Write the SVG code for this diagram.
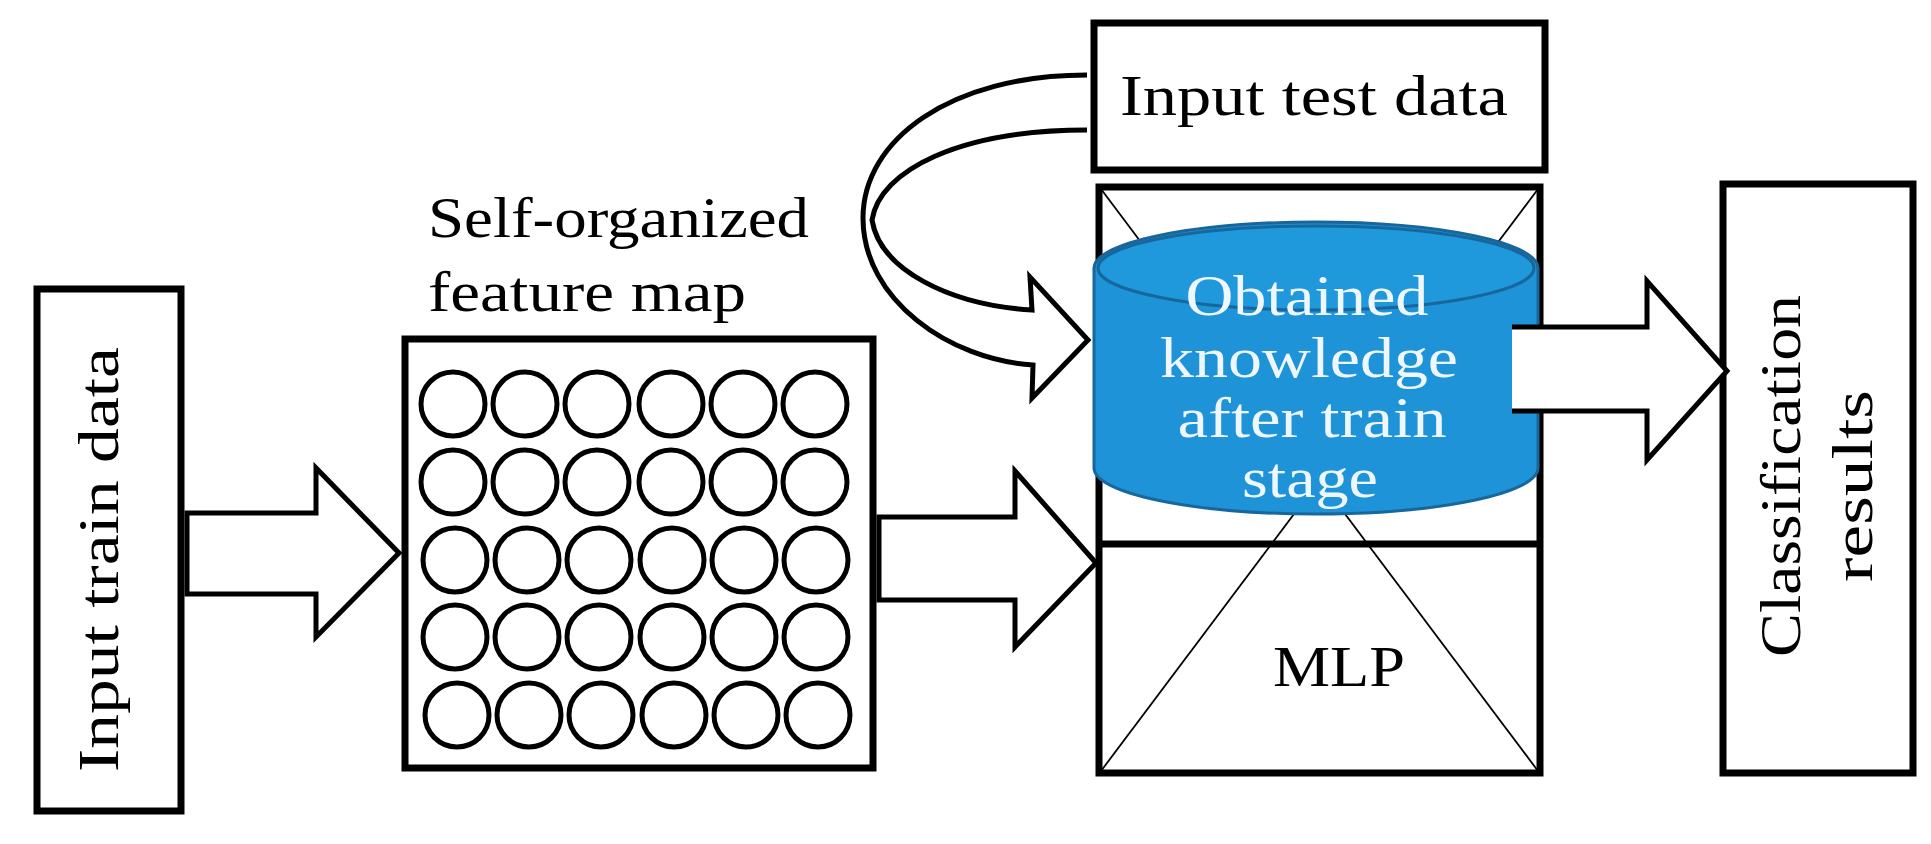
<svg xmlns="http://www.w3.org/2000/svg" width="1931" height="844" viewBox="0 0 1931 844">
<style>
.box{fill:#fff;stroke:#000;stroke-width:7}
.c{fill:none;stroke:#000;stroke-width:5}
.arr{fill:#fff;stroke:#000;stroke-width:5;stroke-linejoin:miter}
.t{font-family:"Liberation Serif","Times New Roman",serif;font-size:56px;fill:#000}
.w{font-family:"Liberation Serif","Times New Roman",serif;font-size:56px;fill:#eef7ff;text-anchor:middle}
</style>
<rect width="1931" height="844" fill="#fff"/>
<g id="train">
<rect class="box" x="37" y="289" width="144" height="522"/>
<text class="t" transform="translate(118,772) rotate(-90)" textLength="425" lengthAdjust="spacingAndGlyphs">Input train data</text>
</g>
<g id="som">
<text class="t" x="428" y="237" textLength="381" lengthAdjust="spacingAndGlyphs">Self-organized</text>
<text class="t" x="428" y="311" textLength="318" lengthAdjust="spacingAndGlyphs">feature map</text>
<rect class="box" x="405" y="339" width="468" height="429"/>
<g class="c">
<circle cx="453" cy="404" r="32"/><circle cx="525" cy="404" r="32"/><circle cx="597" cy="404" r="32"/><circle cx="671" cy="404" r="32"/><circle cx="743" cy="404" r="32"/><circle cx="815" cy="404" r="32"/>
<circle cx="453" cy="482" r="32"/><circle cx="525" cy="482" r="32"/><circle cx="597" cy="482" r="32"/><circle cx="671" cy="482" r="32"/><circle cx="743" cy="482" r="32"/><circle cx="815" cy="482" r="32"/>
<circle cx="455" cy="560" r="32"/><circle cx="527" cy="560" r="32"/><circle cx="599" cy="560" r="32"/><circle cx="672" cy="560" r="32"/><circle cx="744" cy="560" r="32"/><circle cx="816" cy="560" r="32"/>
<circle cx="455" cy="637" r="32"/><circle cx="527" cy="637" r="32"/><circle cx="599" cy="637" r="32"/><circle cx="672" cy="637" r="32"/><circle cx="744" cy="637" r="32"/><circle cx="816" cy="637" r="32"/>
<circle cx="457" cy="715" r="32"/><circle cx="529" cy="715" r="32"/><circle cx="601" cy="715" r="32"/><circle cx="674" cy="715" r="32"/><circle cx="746" cy="715" r="32"/><circle cx="818" cy="715" r="32"/>
</g>
</g>
<g id="test">
<rect class="box" x="1094" y="23" width="451" height="147"/>
<text class="t" x="1120" y="115" textLength="388" lengthAdjust="spacingAndGlyphs">Input test data</text>
</g>
<g id="main">
<rect class="box" x="1099" y="187" width="441" height="586"/>
<line x1="1099" y1="544" x2="1540" y2="544" stroke="#000" stroke-width="7"/>
<line x1="1101" y1="189" x2="1538" y2="771" stroke="#000" stroke-width="1.8"/>
<line x1="1538" y1="189" x2="1101" y2="771" stroke="#000" stroke-width="1.8"/>
<path d="M1094,268 A222,46 0 0 1 1538,268 L1538,468 A222,46 0 0 1 1094,468 Z" fill="#1e93d8" stroke="#17679c" stroke-width="3"/>
<ellipse cx="1316" cy="268" rx="218" ry="42" fill="#2099dc" stroke="#17679c" stroke-width="3"/>
<text class="w" x="1307" y="315" textLength="243" lengthAdjust="spacingAndGlyphs">Obtained</text>
<text class="w" x="1309" y="377" textLength="298" lengthAdjust="spacingAndGlyphs">knowledge</text>
<text class="w" x="1312" y="437" textLength="269" lengthAdjust="spacingAndGlyphs">after train</text>
<text class="w" x="1310" y="497" textLength="136" lengthAdjust="spacingAndGlyphs">stage</text>
<text class="t" x="1273" y="686" textLength="132" lengthAdjust="spacingAndGlyphs">MLP</text>
</g>
<g id="results">
<rect class="box" x="1723" y="184" width="190" height="589"/>
<text class="t" transform="translate(1800,657) rotate(-90)" textLength="362" lengthAdjust="spacingAndGlyphs">Classification</text>
<text class="t" transform="translate(1872,582) rotate(-90)" textLength="192" lengthAdjust="spacingAndGlyphs">results</text>
</g>
<g id="connectors">
<path class="arr" d="M187,513 L316,513 L316,468 L399,553 L316,637 L316,594 L187,594 Z"/>
<path class="arr" d="M879,517 L1015,517 L1015,471 L1096,563 L1015,647 L1015,600 L879,600 Z"/>
<path class="arr" d="M1512,327 L1647,327 L1647,281 L1727,371 L1647,460 L1647,411 L1512,411"/>
<path class="arr" d="M1087,75 C950,75 863,140 863,218 C863,300 950,360 1033,365 L1032,398 L1088,340 L1030,277 L1032,310 C950,305 880,270 872,220 C880,170 960,130 1087,130"/>
</g>
</svg>
